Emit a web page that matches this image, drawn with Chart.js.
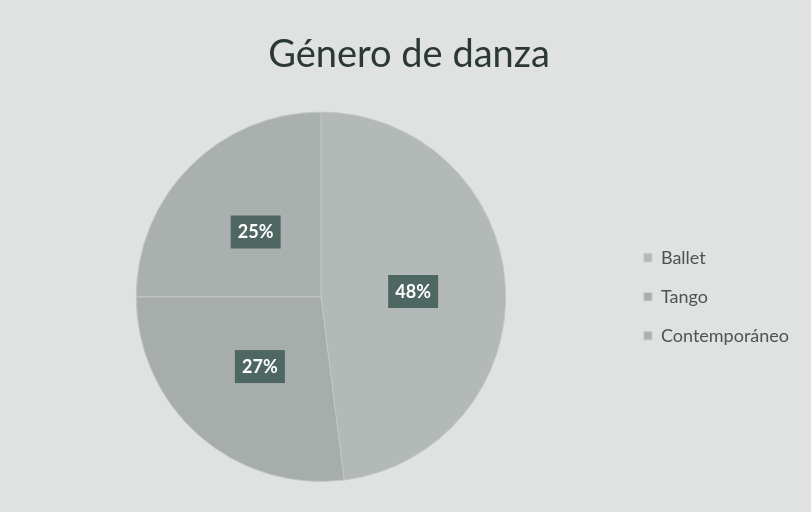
<!DOCTYPE html>
<html>
<head>
<meta charset="utf-8">
<script src="https://cdn.jsdelivr.net/npm/chart.js@4"></script>
<style>
  body { margin: 0; background: #dfe2e1; }
  canvas { display: block; }
</style>
</head>
<body>
<canvas id="myChart" width="811" height="512"></canvas>
<script>
const labels = ["Ballet", "Tango", "Contemporáneo"];
const values = [48, 27, 25];
const colors = ["#b3b9b6", "#a7adab", "#aab0ad"];

const ctx = document.getElementById("myChart");

const bgPlugin = {
  id: "paperBackground",
  beforeDraw: (chart) => {
    const c = chart.ctx;
    c.save();
    c.fillStyle = "#dfe2e1";
    c.fillRect(0, 0, chart.width, chart.height);
    c.restore();
  },
};

// dark boxes with the percentage in the middle of each slice
const labelPlugin = {
  id: "sliceLabels",
  afterDatasetsDraw: (chart) => {
    const c = chart.ctx;
    const meta = chart.getDatasetMeta(0);
    const total = values.reduce((a, b) => a + b, 0);
    c.save();
    c.font = "bold 18px Lato";
    c.textAlign = "center";
    c.textBaseline = "middle";
    meta.data.forEach((arc, i) => {
      const p = arc.tooltipPosition();
      const txt = Math.round((values[i] / total) * 100) + "%";
      c.fillStyle = "#4f6762";
      c.fillRect(p.x - 25, p.y - 16, 50, 33);
      c.fillStyle = "#ffffff";
      c.fillText(txt, p.x, p.y + 1);
    });
    c.restore();
  },
};

new Chart(ctx, {
  type: "pie",
  data: {
    labels: labels,
    datasets: [
      {
        data: values,
        backgroundColor: colors,
        borderColor: "#c2c7c5",
        borderWidth: 1,
      },
    ],
  },
  options: {
    responsive: false,
    animation: false,
    layout: {
      padding: { left: 19, right: 12, top: 0, bottom: 30 },
    },
    plugins: {
      title: {
        display: true,
        text: "Género de danza",
        color: "#2b3834",
        font: { family: "Lato", size: 38, weight: "normal" },
        padding: { top: 32, bottom: 34 },
      },
      legend: {
        position: "right",
        fullSize: false,
        labels: {
          color: "#4a5552",
          font: { family: "Lato", size: 18 },
          boxWidth: 8,
          boxHeight: 8,
          padding: 21,
        },
      },
      tooltip: { enabled: false },
    },
  },
  plugins: [bgPlugin, labelPlugin],
});
</script>
</body>
</html>
